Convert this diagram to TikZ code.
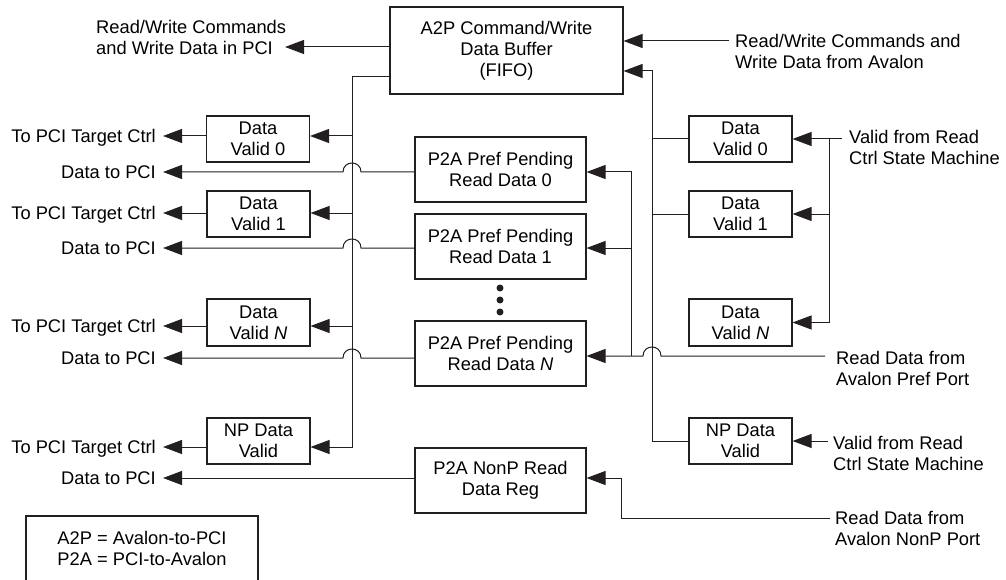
\documentclass[tikz,border=0pt]{standalone}
\usepackage{fontspec}
\setmainfont{Liberation Sans}
\usetikzlibrary{arrows.meta,calc}
\definecolor{ink}{RGB}{35,31,32}
\begin{document}
\begin{tikzpicture}[x=1pt,y=-1pt,
  every node/.style={font=\fontsize{18.3}{21}\selectfont, text=black},
  box/.style={draw=ink, line width=1.1pt, align=center, inner sep=0pt},
  sbox/.style={box, minimum width=103pt, minimum height=46pt},
  bbox/.style={box, minimum width=171pt, minimum height=65pt},
  lbl/.style={inner sep=0pt},
  wire/.style={draw=ink, line width=1pt},
  arr/.style={wire, -{Triangle[length=19pt,width=14pt]}},
  dot/.style={circle, fill=ink, inner sep=0pt, minimum size=7pt},
]
\useasboundingbox (0,0) rectangle (1006,580);

% ---------- boxes ----------
\node[box, minimum width=233pt, minimum height=87pt] (a2p) at (506.5,50.5) {A2P Command/Write\\Data Buffer\\(FIFO)};
\node[sbox] (ldv0) at (258,139) {Data\\Valid 0};
\node[sbox] (ldv1) at (258.5,214) {Data\\Valid 1};
\node[sbox, minimum height=47pt] (ldvn) at (258.5,322.5) {Data\\Valid \textit{N}};
\node[sbox] (lnp) at (258.5,441) {NP Data\\Valid};
\node[bbox] (pp0) at (500.5,169.5) {P2A Pref Pending\\Read Data 0};
\node[bbox] (pp1) at (500.5,246.5) {P2A Pref Pending\\Read Data 1};
\node[bbox] (ppn) at (500.5,353.5) {P2A Pref Pending\\Read Data \textit{N}};
\node[bbox] (nonp) at (500.5,480.5) {P2A NonP Read\\Data Reg};
\node[sbox] (rdv0) at (740.5,139) {Data\\Valid 0};
\node[sbox] (rdv1) at (740.5,214) {Data\\Valid 1};
\node[sbox, minimum height=47pt] (rdvn) at (740.5,322.5) {Data\\Valid \textit{N}};
\node[sbox] (rnp) at (740.5,441) {NP Data\\Valid};
\node[box, minimum width=232pt, minimum height=65pt] (leg) at (142,548.5) {A2P = Avalon-to-PCI\\P2A = PCI-to-Avalon};

\node[dot] (dot1) at (500,288) {};
\node[dot] (dot2) at (500,300) {};
\node[dot] (dot3) at (500,312) {};

% ---------- left-side row coordinates and labels ----------
\coordinate (t0) at (163,136);
\coordinate (t1) at (163,213);
\coordinate (tN) at (163,326);
\coordinate (tNP) at (163,447);
\coordinate (d0) at (163,172);
\coordinate (d1) at (163,248);
\coordinate (dN) at (163,358);
\coordinate (dNP) at (163,478);
\foreach \r in {t0,t1,tN,tNP} {
  \node[lbl, anchor=base east] (lab\r) at ([shift={(-7,6.5)}]\r) {To PCI Target Ctrl};
}
\foreach \r in {d0,d1,dN,dNP} {
  \node[lbl, anchor=base east] (lab\r) at ([shift={(-7,6.5)}]\r) {Data to PCI};
}

\coordinate (o1) at (285,47);
\node[lbl, anchor=west, align=left] (lout) at (96,37) {Read/Write Commands\\and Write Data in PCI};
\draw[arr] (a2p.west |- o1) -- (o1);

% ---------- left bus ----------
\coordinate (lbT) at (352,77);
\coordinate (lbB) at (352,447);
\draw[arr] (a2p.west |- lbT) -| (lbB) -- (lnp.east |- lbB);
\foreach \r/\b in {t0/ldv0,t1/ldv1,tN/ldvn} {
  \draw[arr] (lbT |- \r) -- (\b.east |- \r);
  \draw[arr] (\b.west |- \r) -- (\r);
}
\draw[arr] (lnp.west |- tNP) -- (tNP);

% data to PCI with hops over the left bus
\foreach \r/\b in {d0/pp0,d1/pp1,dN/ppn} {
  \coordinate (hx) at (lbT |- \r);
  \draw[arr] (\b.west |- \r) -- ($(hx)+(9,0)$) .. controls ($(hx)+(9,-12)$) and ($(hx)+(-9,-12)$) .. ($(hx)+(-9,0)$) -- (\r);
}
\draw[arr] (nonp.west |- dNP) -- (dNP);

% ---------- right side ----------
\coordinate (avIn) at (729,41);
\node[lbl, anchor=west, align=left] (lav) at (735,51) {Read/Write Commands and\\Write Data from Avalon};
\draw[arr] (avIn) -- (a2p.east |- avIn);

\coordinate (rbT) at (652,71);
\draw[arr] (rnp.west) -| (rbT) -- (a2p.east |- rbT);
\draw[wire] (rbT |- rdv0.west) -- (rdv0.west);
\draw[wire] (rbT |- rdv1.west) -- (rdv1.west);

% pref read data bus
\coordinate (prefIn) at (825,356);
\coordinate (pbT) at (631,172);
\coordinate (hp) at (rbT |- prefIn);
\node[lbl, anchor=west, align=left] (lpref) at (836,368) {Read Data from\\Avalon Pref Port};
\draw[arr] (prefIn) -- ($(hp)+(9,0)$) .. controls ($(hp)+(9,-12)$) and ($(hp)+(-9,-12)$) .. ($(hp)+(-9,0)$) -- (ppn.east |- prefIn);
\draw[arr] (pbT |- prefIn) -- (pbT) -- (pp0.east |- pbT);
\draw[arr] (pbT |- d1) -- (pp1.east |- d1);

% valid bus
\coordinate (vIn) at (842,139);
\coordinate (vbT) at (829,139);
\node[lbl, anchor=west, align=left] (lv1) at (849,147.5) {Valid from Read\\Ctrl State Machine};
\draw[arr] (vIn) -- (rdv0.east);
\draw[arr] (vbT) |- (rdvn.east);
\draw[arr] (vbT |- rdv1.east) -- (rdv1.east);

\coordinate (vIn2) at (828,441);
\node[lbl, anchor=west, align=left] (lv2) at (833,453) {Valid from Read\\Ctrl State Machine};
\draw[arr] (vIn2) -- (rnp.east);

% nonP read data
\coordinate (npIn) at (830,518);
\coordinate (npC) at (621,518);
\node[lbl, anchor=west, align=left] (lnpin) at (835,528) {Read Data from\\Avalon NonP Port};
\draw[arr] (npIn) -- (npC) |- (nonp.east |- dNP);
\end{tikzpicture}
\end{document}
